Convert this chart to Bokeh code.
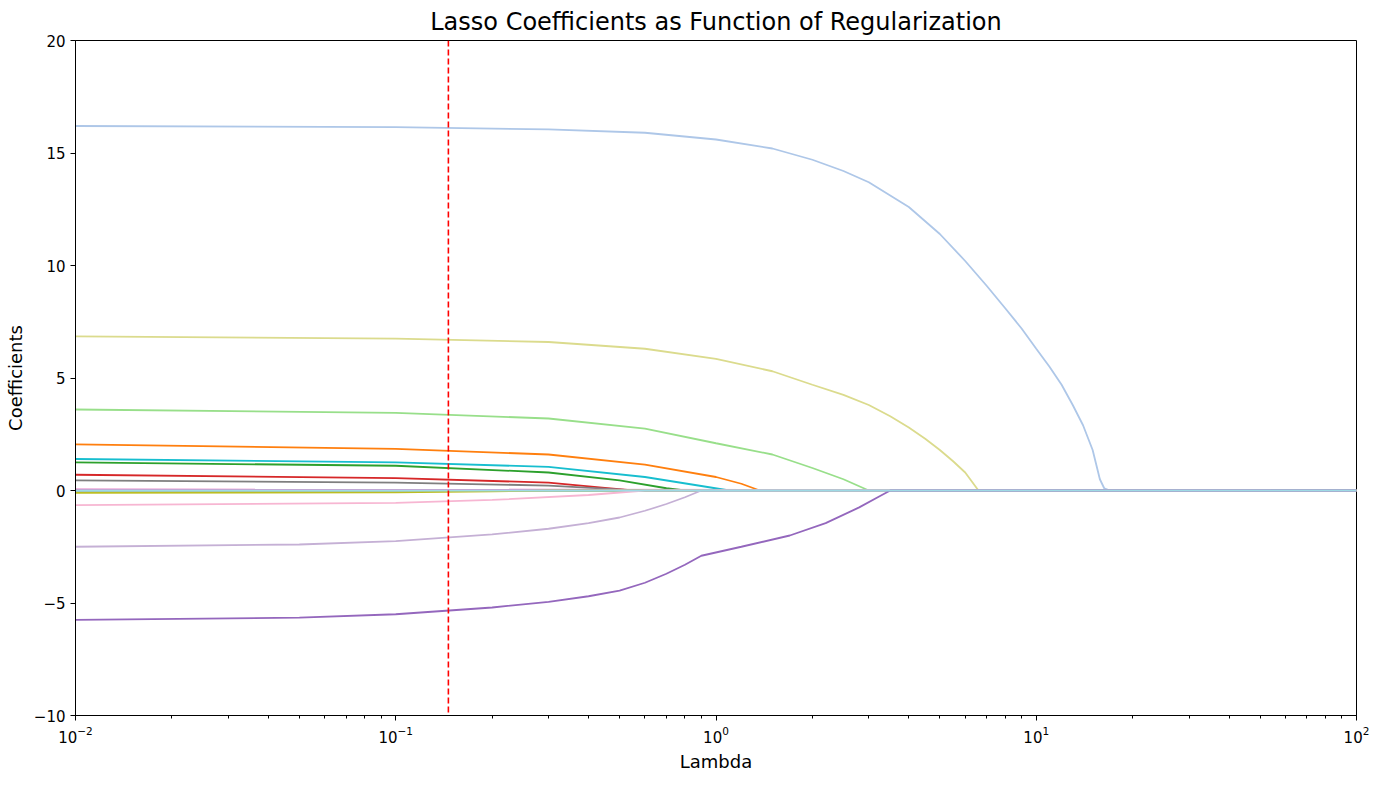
from bokeh.plotting import figure
from bokeh.models import Range1d, Span
from bokeh.embed import file_html
from bokeh.resources import INLINE

# (color, lambdas, coefficients)
series = [
    ("#aec7e8", [0.01, 0.1, 0.3, 0.6, 1, 1.5, 2, 2.5, 3, 4, 5, 6, 7, 8, 9, 10, 11, 12, 13, 14, 15, 15.8, 16.3, 17, 100],
     [16.2, 16.15, 16.05, 15.9, 15.6, 15.2, 14.7, 14.2, 13.7, 12.6, 11.4, 10.2, 9.1, 8.1, 7.2, 6.3, 5.5, 4.7, 3.8, 2.9, 1.8, 0.5, 0.1, 0, 0]),
    ("#dbdb8d", [0.01, 0.1, 0.3, 0.6, 1, 1.5, 2, 2.5, 3, 3.5, 4, 4.5, 5, 5.5, 6, 6.6, 100],
     [6.85, 6.75, 6.6, 6.3, 5.85, 5.3, 4.7, 4.25, 3.8, 3.3, 2.8, 2.3, 1.8, 1.3, 0.8, 0, 0]),
    ("#98df8a", [0.01, 0.1, 0.3, 0.6, 1, 1.5, 2, 2.5, 3.0, 100],
     [3.6, 3.45, 3.2, 2.75, 2.1, 1.6, 1.0, 0.5, 0, 0]),
    ("#ff7f0e", [0.01, 0.1, 0.3, 0.6, 1, 1.2, 1.37, 100],
     [2.05, 1.85, 1.6, 1.15, 0.6, 0.3, 0, 0]),
    ("#17becf", [0.01, 0.1, 0.3, 0.6, 0.9, 1.1, 100],
     [1.4, 1.25, 1.05, 0.6, 0.2, 0, 0]),
    ("#2ca02c", [0.01, 0.1, 0.3, 0.5, 0.7, 0.8, 100],
     [1.25, 1.1, 0.8, 0.45, 0.1, 0, 0]),
    ("#d62728", [0.01, 0.1, 0.3, 0.45, 0.55, 100],
     [0.7, 0.55, 0.35, 0.12, 0, 0]),
    ("#7f7f7f", [0.01, 0.1, 0.3, 0.45, 0.55, 100],
     [0.45, 0.35, 0.22, 0.08, 0, 0]),
    ("#1f77b4", [0.01, 100], [0, 0]),
    ("#e377c2", [0.01, 100], [0.05, 0]),
    ("#bcbd22", [0.01, 0.1, 0.2, 0.3, 100],
     [-0.1, -0.08, -0.04, 0, 0]),
    ("#f7b6d2", [0.01, 0.1, 0.2, 0.4, 0.6, 100],
     [-0.65, -0.55, -0.42, -0.2, 0, 0]),
    ("#c5b0d5", [0.01, 0.05, 0.1, 0.2, 0.3, 0.4, 0.5, 0.6, 0.7, 0.8, 0.9, 100],
     [-2.5, -2.4, -2.25, -1.95, -1.7, -1.45, -1.2, -0.9, -0.6, -0.3, 0, 0]),
    ("#9467bd", [0.01, 0.05, 0.1, 0.2, 0.3, 0.4, 0.5, 0.6, 0.7, 0.8, 0.9, 1.2, 1.7, 2.2, 2.8, 3.2, 3.5, 100],
     [-5.75, -5.65, -5.5, -5.2, -4.95, -4.7, -4.45, -4.1, -3.7, -3.3, -2.9, -2.5, -2.0, -1.45, -0.75, -0.3, 0, 0]),
    ("#9edae5", [0.01, 100], [0, 0]),
]
best_lambda = 0.146

p = figure(width=1373, height=774, x_axis_type="log",
           x_range=Range1d(0.01, 100), y_range=Range1d(-10, 20),
           title="Lasso Coefficients as Function of Regularization",
           x_axis_label="Lambda", y_axis_label="Coefficients",
           output_backend="svg", toolbar_location=None,
           min_border_left=75, min_border_right=17, min_border_top=5, min_border_bottom=50)

for color, xs, ys in series:
    p.line(xs, ys, color=color, line_width=1.8)

p.add_layout(Span(location=best_lambda, dimension="height", line_color="red",
                  line_dash="6 3", line_width=1.6))

p.grid.visible = False
p.outline_line_color = "black"
p.title.text_font = "DejaVu Sans"
p.title.text_font_size = "24px"
p.title.text_font_style = "normal"
p.title.text_color = "black"
p.title.align = "center"
for ax in [p.xaxis[0], p.yaxis[0]]:
    ax.axis_label_text_font = "DejaVu Sans"
    ax.axis_label_text_font_size = "18px"
    ax.axis_label_text_font_style = "normal"
    ax.axis_label_text_color = "black"
    ax.major_label_text_font = "DejaVu Sans"
    ax.major_label_text_font_size = "15px"
    ax.major_label_text_color = "black"
    ax.axis_line_color = "black"
    ax.major_tick_line_color = "black"
    ax.minor_tick_line_color = "black"
    ax.major_tick_in = 0
    ax.major_tick_out = 5
    ax.minor_tick_in = 0
    ax.minor_tick_out = 3
p.yaxis.ticker = [-10, -5, 0, 5, 10, 15, 20]
p.yaxis.minor_tick_line_color = None

open("out.html", "w").write(file_html(p, INLINE))
